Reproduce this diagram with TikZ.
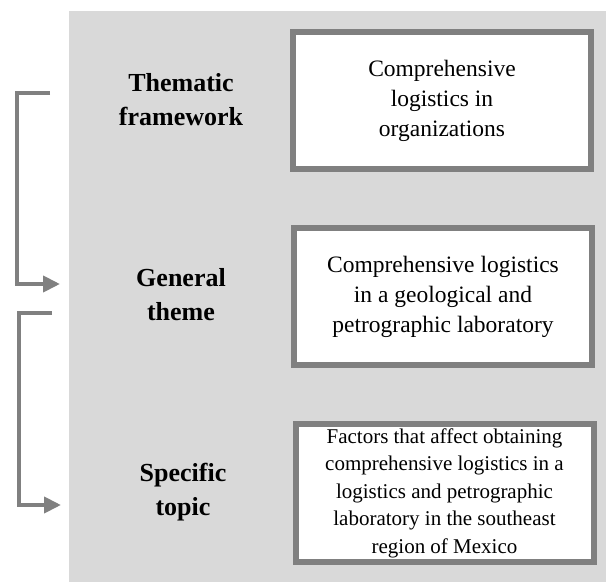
\documentclass[tikz,border=0pt]{standalone}
\usepackage{fontspec}
\setmainfont{Liberation Serif}
\usepackage{tikz}
\usetikzlibrary{arrows.meta}
\definecolor{panelgray}{HTML}{D9D9D9}
\definecolor{framegray}{HTML}{808080}

\begin{document}
\begin{tikzpicture}[line join=miter,>={Triangle[length=17pt,width=16pt]},x=1pt,y=1pt,
    levelbox/.style={draw=framegray,line width=6pt,fill=white,minimum width=298pt,minimum height=137pt,inner sep=0pt,align=center},
    levellabel/.style={align=center,font=\fontsize{26}{34}\selectfont\bfseries},
    bracketline/.style={draw=framegray,line width=4pt,->}]
    \useasboundingbox (0,0) rectangle (606,582);
    \fill[panelgray] (69,0) rectangle (606,571);
    \node[levellabel] (thematic) at (181,482) {Thematic\\framework};
    \node[levellabel] (general) at (181,287) {General\\theme};
    \node[levellabel] (specific) at (183,90) {Specific\\topic};
    \node[levelbox,font=\fontsize{23.5}{30}\selectfont] (thematicbox) at (442,481.5) {Comprehensive\\logistics in\\organizations};
    \node[levelbox,font=\fontsize{23.5}{30}\selectfont] (generalbox) at (443,285) {Comprehensive logistics\\in a geological and\\petrographic laboratory};
    \node[levelbox,font=\fontsize{21}{27.5}\selectfont] (specificbox) at (444.5,89) {Factors that affect obtaining\\comprehensive logistics in a\\logistics and petrographic\\laboratory in the southeast\\region of Mexico};
    \coordinate (thematicout) at (50,489);
    \coordinate (generalin) at (60,298);
    \coordinate (generalout) at (52,269);
    \coordinate (specificin) at (61,77);
    \draw[bracketline] (thematicout) -- ++(-33,0) |- (generalin);
    \draw[bracketline] (generalout) -- ++(-33,0) |- (specificin);
\end{tikzpicture}
\end{document}
